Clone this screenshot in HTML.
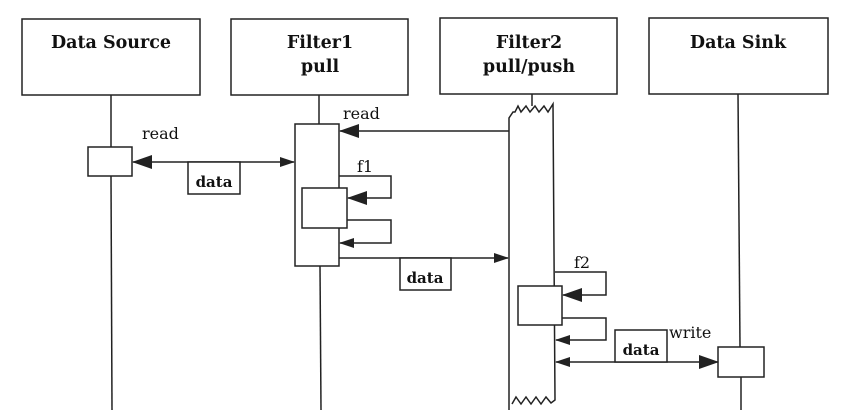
<!DOCTYPE html>
<html><head><style>body{margin:0;background:#fff}svg{display:block}</style></head><body>
<svg width="853" height="419" viewBox="0 0 853 419" xmlns="http://www.w3.org/2000/svg" font-family="DejaVu Serif, Liberation Serif, serif" fill="none" stroke="#222" stroke-width="1.5">
<defs>
<marker id="a" markerWidth="15" markerHeight="12" refX="14" refY="6" orient="auto" markerUnits="userSpaceOnUse"><path d="M0,1 L15,6 L0,11 z" fill="#222" stroke="none"/></marker>
<marker id="b" markerWidth="20" markerHeight="16" refX="19" refY="8" orient="auto" markerUnits="userSpaceOnUse"><path d="M0,1 L20,8 L0,15 z" fill="#222" stroke="none"/></marker>
</defs>
<rect x="22" y="19" width="178" height="76"/>
<rect x="231" y="19" width="177" height="76"/>
<rect x="440" y="18" width="177" height="76"/>
<rect x="649" y="18" width="179" height="76"/>
<g fill="#111" stroke="none" font-weight="bold" font-size="17.5" text-anchor="middle">
<text x="111" y="48">Data Source</text>
<text x="320" y="48">Filter1</text>
<text x="320" y="72">pull</text>
<text x="529" y="48">Filter2</text>
<text x="529" y="72">pull/push</text>
<text x="738" y="48">Data Sink</text>
</g>
<line x1="111" y1="95" x2="111" y2="147"/><line x1="111" y1="176" x2="112" y2="410"/>
<line x1="319" y1="95" x2="319" y2="124"/><line x1="320" y1="266" x2="321" y2="410"/>
<line x1="532" y1="94" x2="532" y2="106"/>
<line x1="738" y1="94" x2="740" y2="347"/><line x1="741" y1="377" x2="741" y2="410"/>
<rect x="88" y="147" width="44" height="29" fill="#fff"/>
<rect x="295" y="124" width="44" height="142" fill="#fff"/>
<rect x="302" y="188" width="45" height="40" fill="#fff"/>
<path d="M509,410 L509,118 L513,112 L515,112 L518,106 L521,112 L526,106 L530,112 L535,106 L539,112 L544,106 L548,112 L553,104 L555,400 L551,403 L546,397 L541,404 L536,397 L531,404 L526,397 L521,404 L516,397 L512,404" fill="#fff"/>
<rect x="518" y="286" width="44" height="39" fill="#fff"/>
<rect x="718" y="347" width="46" height="30" fill="#fff"/>
<line x1="509" y1="131" x2="340" y2="131" marker-end="url(#b)"/>
<path d="M339,176 H391 V198 H348" marker-end="url(#b)"/>
<path d="M347,220 H391 V243 H340" marker-end="url(#a)"/>
<line x1="200" y1="162" x2="133" y2="162" marker-end="url(#b)"/>
<line x1="200" y1="162" x2="294" y2="162" marker-end="url(#a)"/>
<line x1="339" y1="258" x2="508" y2="258" marker-end="url(#a)"/>
<path d="M555,272 H606 V295 H563" marker-end="url(#b)"/>
<path d="M562,318 H606 V340 H556" marker-end="url(#a)"/>
<line x1="640" y1="362" x2="556" y2="362" marker-end="url(#a)"/>
<line x1="640" y1="362" x2="718" y2="362" marker-end="url(#b)"/>
<rect x="188" y="162" width="52" height="32" fill="#fff"/>
<rect x="400" y="258" width="51" height="32" fill="#fff"/>
<rect x="615" y="330" width="52" height="32" fill="#fff"/>
<g fill="#111" stroke="none" font-size="16">
<text x="142" y="139">read</text>
<text x="343" y="119">read</text>
<text x="357" y="172">f1</text>
<text x="574" y="268">f2</text>
<text x="669" y="338">write</text>
<g font-weight="bold" font-size="15"><text x="214" y="187" text-anchor="middle">data</text>
<text x="425" y="283" text-anchor="middle">data</text>
<text x="641" y="355" text-anchor="middle">data</text></g>
</g>
</svg>
</body></html>
